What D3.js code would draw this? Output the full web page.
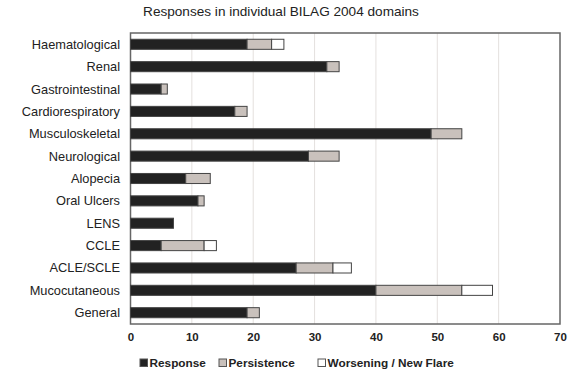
<html>
  <head>
    <meta charset="utf-8" />
    <script src="https://cdnjs.cloudflare.com/ajax/libs/d3/7.6.1/d3.min.js"></script>
    <style>
      body { margin: 0; background: #fff; }
      svg { font-family: "Liberation Sans", Arial, sans-serif; }
    </style>
  </head>
  <body>
    <svg width="569" height="376"></svg>
  </body>
  <script>
    const domains = ["Haematological", "Renal", "Gastrointestinal", "Cardiorespiratory",
      "Musculoskeletal", "Neurological", "Alopecia", "Oral Ulcers", "LENS", "CCLE",
      "ACLE/SCLE", "Mucocutaneous", "General"];
    const response = [19, 32, 5, 17, 49, 29, 9, 11, 7, 5, 27, 40, 19];
    const persistence = [4, 2, 1, 2, 5, 5, 4, 1, 0, 7, 6, 14, 2];
    const worsening = [2, 0, 0, 0, 0, 0, 0, 0, 0, 2, 3, 5, 0];
    const seriesNames = ["Response", "Persistence", "Worsening / New Flare"];
    const xTicks = [0, 10, 20, 30, 40, 50, 60, 70];

    const colors = ["#222222", "#c9c1bc", "#ffffff"];
    const svg = d3.select("svg");

    const rows = domains.map((d, i) => ({
      domain: d, Response: response[i], Persistence: persistence[i],
      "Worsening / New Flare": worsening[i]
    }));
    const stacked = d3.stack().keys(seriesNames)(rows);

    const x = d3.scaleLinear().domain([0, 70]).range([130.5, 560]);
    const y = d3.scaleBand().domain(domains).range([33, 324]).paddingInner(0.55).paddingOuter(0.28);

    // gridlines
    svg.append("g").selectAll("line").data(xTicks.slice(1, -1)).enter().append("line")
      .attr("x1", d => x(d)).attr("x2", d => x(d))
      .attr("y1", 33).attr("y2", 324)
      .attr("stroke", "#e4e0de").attr("stroke-width", 1);

    // frame
    svg.append("rect").attr("x", x(0)).attr("y", 33)
      .attr("width", x(70) - x(0)).attr("height", 291)
      .attr("fill", "none").attr("stroke", "#666").attr("stroke-width", 1.5);

    // bars
    svg.append("g").selectAll("g").data(stacked).enter().append("g")
      .attr("fill", (d, i) => colors[i])
      .selectAll("rect").data(d => d.filter(s => s[1] > s[0])).enter().append("rect")
      .attr("x", d => x(d[0]))
      .attr("y", d => y(d.data.domain))
      .attr("width", d => x(d[1]) - x(d[0]))
      .attr("height", y.bandwidth())
      .attr("stroke", "#444").attr("stroke-width", 1);

    // y labels
    svg.append("g").selectAll("text").data(domains).enter().append("text")
      .attr("x", 120).attr("y", d => y(d) + y.bandwidth() / 2)
      .attr("dy", "0.35em").attr("text-anchor", "end")
      .attr("font-size", 12.8).attr("fill", "#222").text(d => d);

    // x axis
    const xAxis = d3.axisBottom(x).tickValues(xTicks).tickSize(0).tickPadding(9);
    const gx = svg.append("g").attr("transform", "translate(0,324)").call(xAxis);
    gx.select(".domain").remove();
    gx.selectAll("text").attr("font-size", 11.5).attr("font-weight", "bold")
      .attr("fill", "#222").attr("font-family", "Liberation Sans, Arial, sans-serif");

    // title
    svg.append("text").attr("x", 281).attr("y", 16).attr("text-anchor", "middle")
      .attr("font-size", 13.6).attr("fill", "#222")
      .text("Responses in individual BILAG 2004 domains");

    // legend
    const legendX = [140, 219, 318];
    const lg = svg.append("g").selectAll("g").data(seriesNames).enter().append("g")
      .attr("transform", (d, i) => `translate(${legendX[i]},363)`);
    lg.append("rect").attr("x", 0).attr("y", -4).attr("width", 7.5).attr("height", 7.5)
      .attr("fill", (d, i) => colors[i]).attr("stroke", "#555").attr("stroke-width", 1);
    lg.append("text").attr("x", 9.5).attr("dy", "0.35em")
      .attr("font-size", 11.8).attr("font-weight", "bold").attr("fill", "#222")
      .text(d => d);
  </script>
</html>
